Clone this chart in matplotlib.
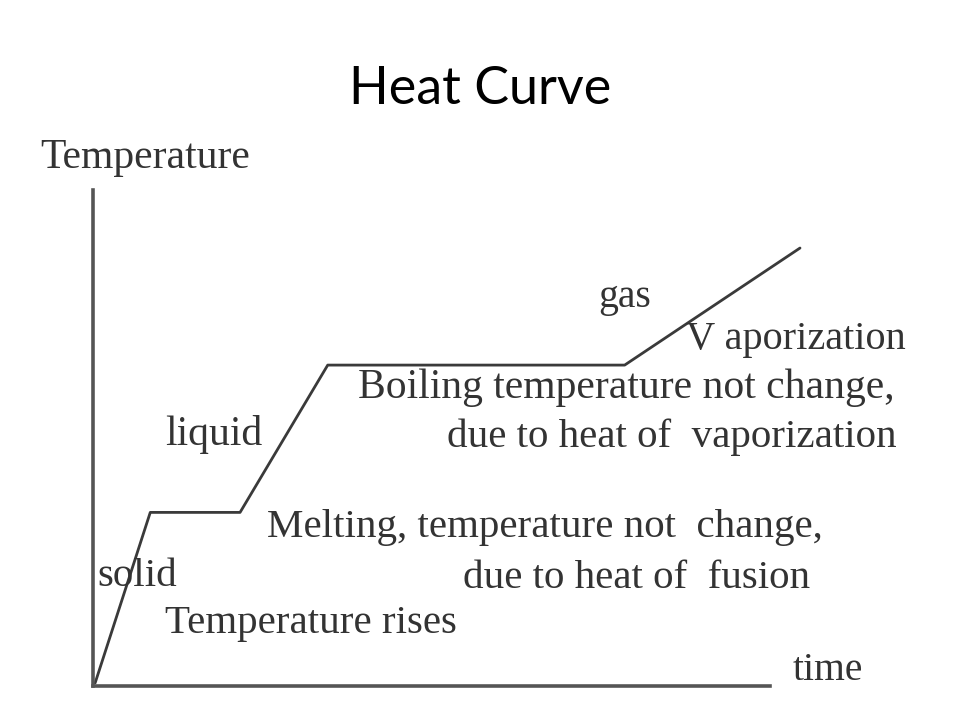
import numpy as np
import matplotlib.pyplot as plt

# heating curve corner points (time, temperature), arbitrary units
time = [0.03, 0.81, 2.08, 3.32, 7.52, 10.0]
temp = [0.06, 3.5, 3.5, 6.47, 6.47, 8.83]

W, H = 960, 720
fig = plt.figure(figsize=(9.6, 7.2), dpi=100)

# axes box in pixels: left 93, right 800, bottom 686, top 190
ax = fig.add_axes([93 / W, 1 - 686 / H, (800 - 93) / W, (686 - 190) / H])
ax.set_xlim(0, 10)
ax.set_ylim(0, 10)
ax.plot(time, temp, color="#3a3a3a", lw=2.0, clip_on=False, solid_capstyle="round")

for s in ["top", "right"]:
    ax.spines[s].set_visible(False)
for s in ["left", "bottom"]:
    ax.spines[s].set_color("#555555")
    ax.spines[s].set_linewidth(2.6)
ax.spines["bottom"].set_bounds(0, 9.58)
ax.set_xticks([])
ax.set_yticks([])
ax.patch.set_alpha(0)

fig.text(0.5, 1 - 90 / H, "Heat Curve", ha="center", va="center",
         fontsize=37.5, family="Lato", color="black")

serif = dict(family="Liberation Serif", color="#333333", va="center", ha="left")


def label(px, py, s, size=29.5):
    fig.text(px / W, 1 - py / H, s, fontsize=size, **serif)


label(40, 158, "Temperature", 30)
label(598, 297, "gas", 28.5)
label(686, 340, "V aporization", 29)
label(358, 388, "Boiling temperature not change,", 30)
label(447, 437, "due to heat of  vaporization", 29.5)
label(165, 435, "liquid", 30)
label(267, 527, "Melting, temperature not  change,", 29.5)
label(463, 578, "due to heat of  fusion", 29.5)
label(97, 577, "solid", 29.5)
label(165, 623, "Temperature rises", 29.5)
label(793, 670, "time", 28.5)

fig.savefig("out.png", dpi=100)
